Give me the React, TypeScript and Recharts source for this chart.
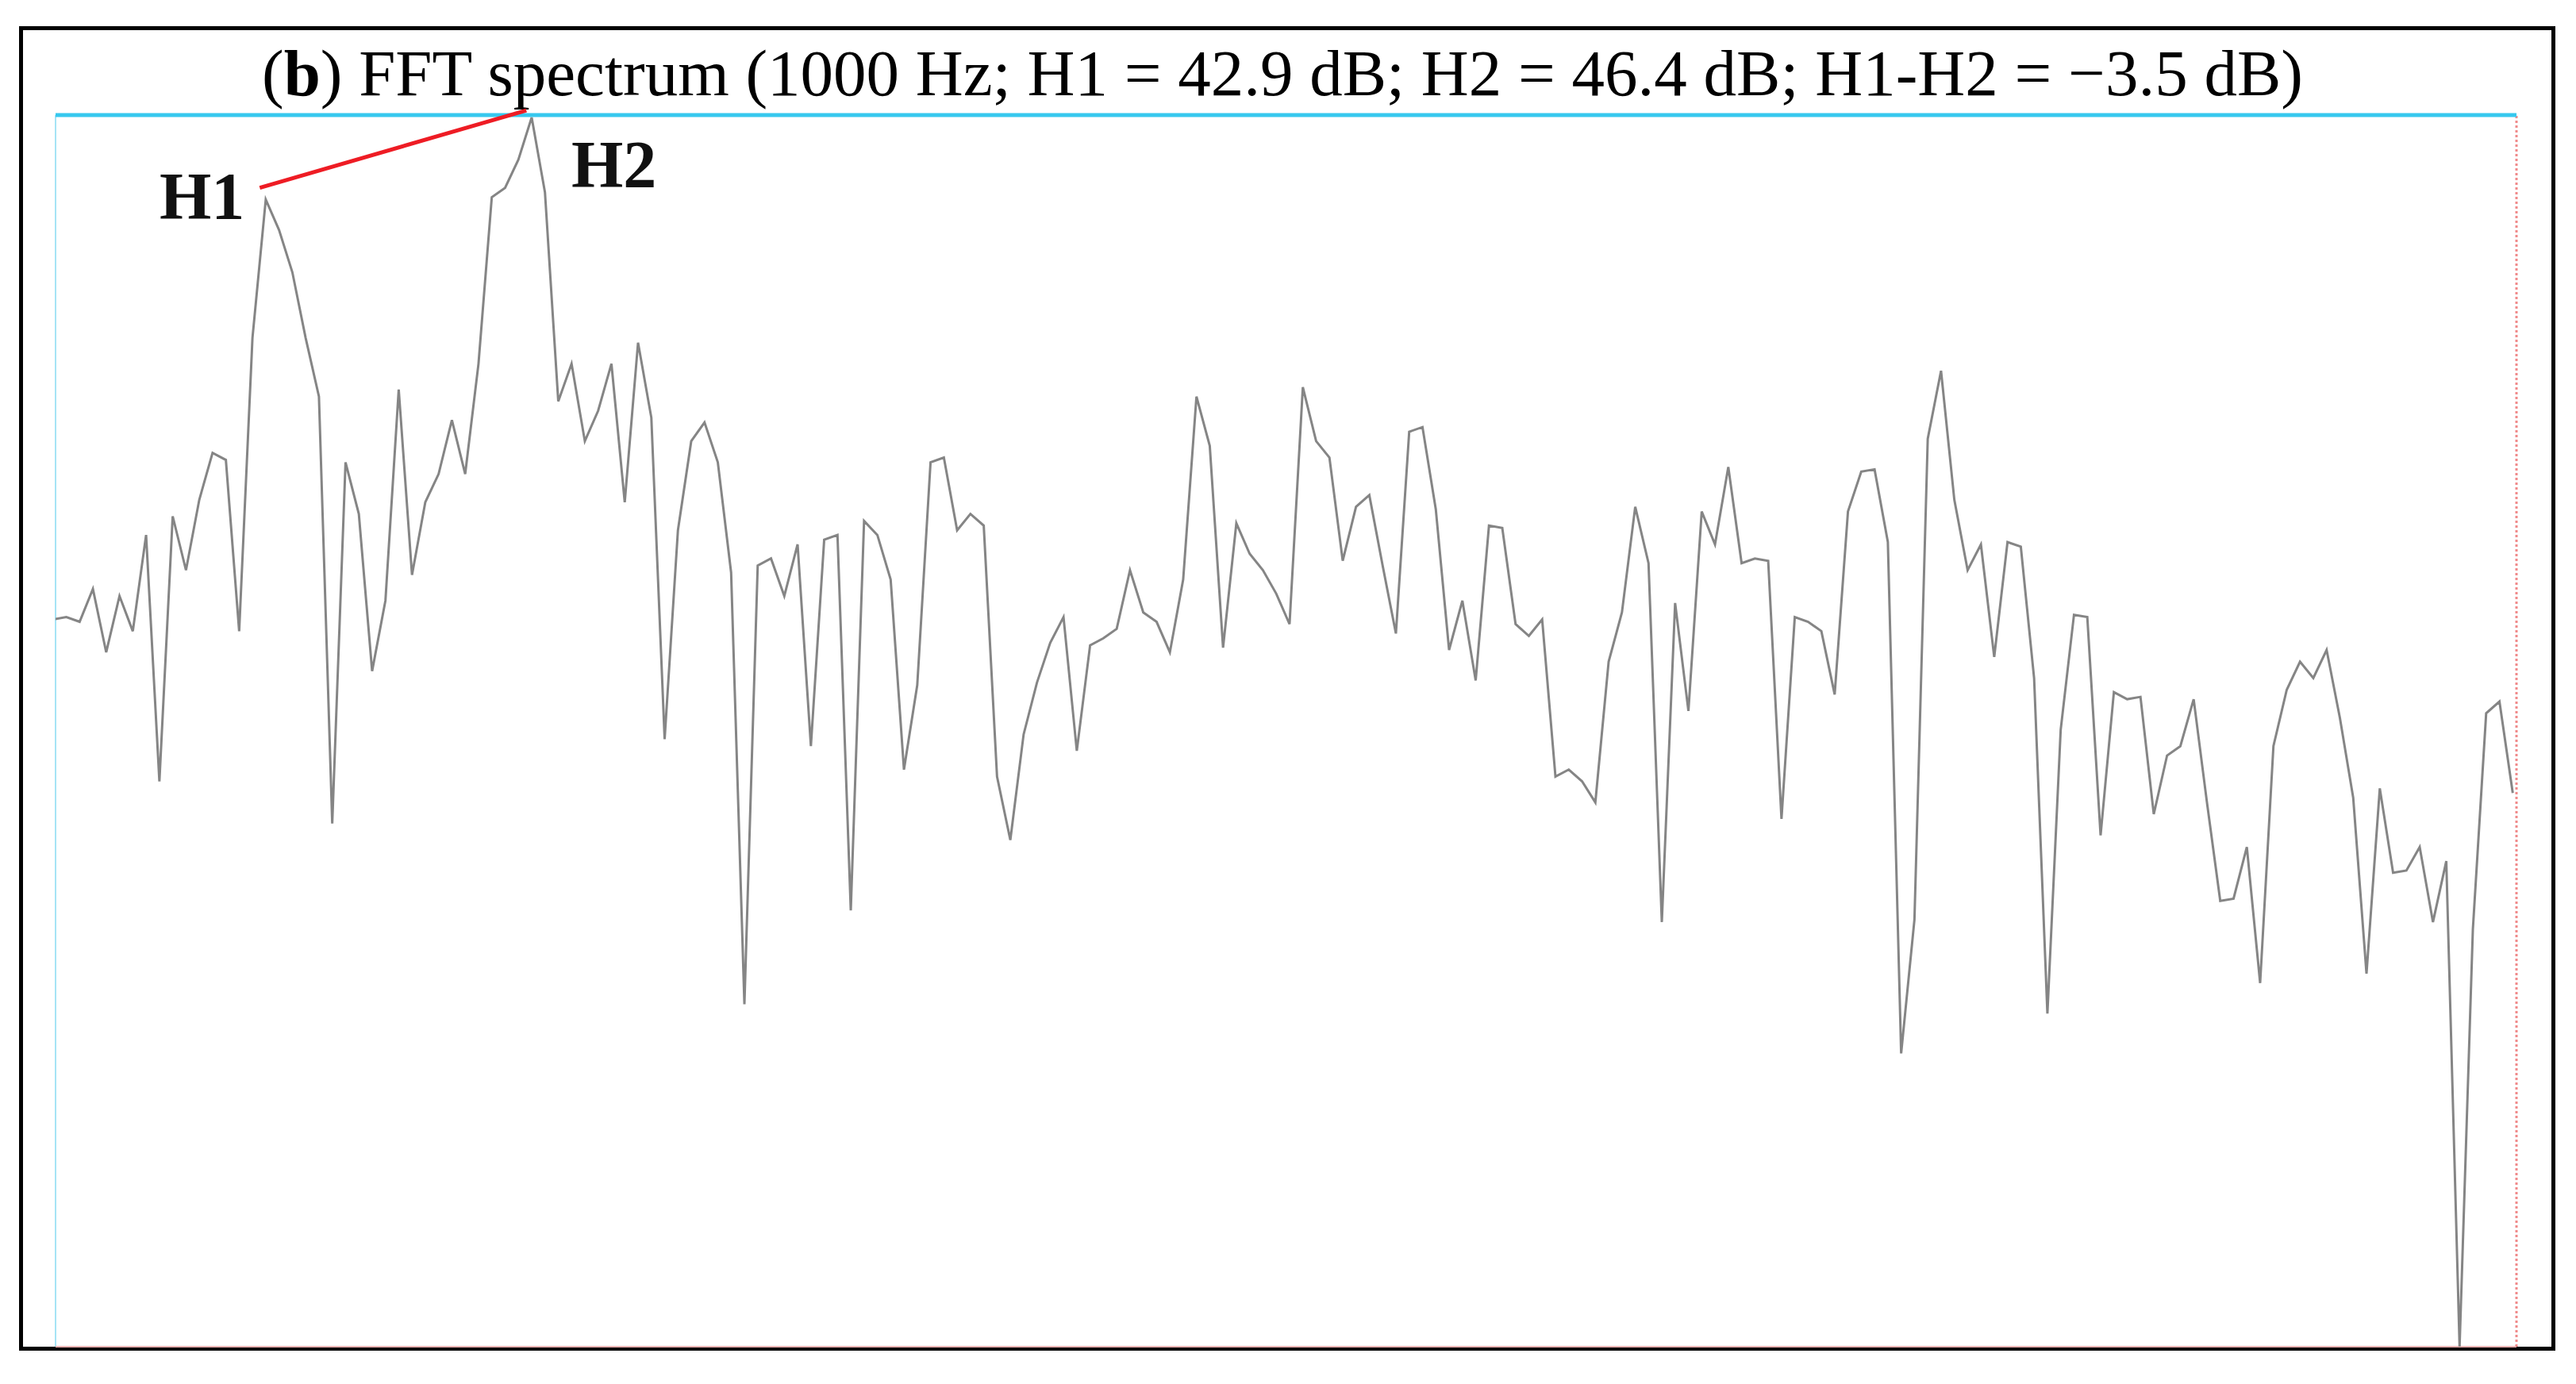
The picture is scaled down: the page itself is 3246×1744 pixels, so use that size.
import React from "react";
import { LineChart, Line, XAxis, YAxis, ReferenceLine } from "recharts";

// FFT spectrum levels (dB), read bin by bin from left to right
const band1: number[] = [
  25.0, 25.1, 24.9, 26.3, 23.6, 26.0, 24.5, 28.6, 18.1, 29.4, 27.1, 30.1, 32.1, 31.8, 24.5, 37.0,
  42.9, 41.6, 39.8, 37.0, 34.5, 16.3, 31.7, 29.5, 22.8, 25.8, 34.8, 26.9, 30.0, 31.2, 33.5,
];
const band2: number[] = [
  31.2, 35.9, 43.0, 43.4, 44.6, 46.4, 43.2, 34.3, 35.9, 32.6, 33.9, 35.9, 30.0, 36.8, 33.6, 19.9,
  28.8, 32.6, 33.4, 31.7, 27.0, 8.6, 27.3, 27.6, 26.0, 28.2, 19.6, 28.4, 28.6, 12.6, 29.2,
];
const band3: number[] = [
  28.6, 26.7, 18.6, 22.2, 31.7, 31.9, 28.8, 29.5, 29.0, 18.3, 15.6, 20.1, 22.3, 24.0, 25.1, 19.4,
  23.9, 24.2, 24.6, 27.1, 25.3, 24.9, 23.6, 26.7, 34.5, 32.4, 23.8, 29.1, 27.8, 27.1, 26.1,
];
const band4: number[] = [
  24.8, 34.9, 32.6, 31.9, 27.5, 29.8, 30.3, 27.3, 24.4, 33.0, 33.2, 29.7, 23.7, 25.8, 22.4, 29.0,
  28.9, 24.8, 24.3, 25.0, 18.3, 18.6, 18.1, 17.2, 23.2, 25.3, 29.8, 27.4, 12.1, 25.7, 21.1,
];
const band5: number[] = [
  29.6, 28.2, 31.5, 27.4, 27.6, 27.5, 16.5, 25.1, 24.9, 24.5, 21.8, 29.6, 31.3, 31.4, 28.3, 6.5,
  12.2, 32.7, 35.6, 30.1, 27.1, 28.2, 23.4, 28.3, 28.1, 22.5, 8.2, 20.3, 25.2, 25.1, 15.8,
];
const band6: number[] = [
  21.9, 21.6, 21.7, 16.7, 19.2, 19.6, 21.6, 17.2, 13.0, 13.1, 15.3, 9.5, 19.6, 22.0, 23.2, 22.5,
  23.7, 20.8, 17.4, 9.9, 17.8, 14.2, 14.3, 15.3, 12.1, 14.7, -6.0, 11.8, 21.0, 21.5, 17.6,
];

const levels: number[] = [...band1, ...band2, ...band3, ...band4, ...band5, ...band6];
const data = levels.map((v, i) => ({ bin: i, level: v }));

const yDomain: [number, number] = [-6, 46.5];
const xDomain: [number, number] = [0.19, 185.28];

// H1 -> H2 marker (data coordinates)
const h1Mark = { x: 15.55, y: 43.4 };
const h2Mark = { x: 35.6, y: 46.7 };

const titleParts = {
  open: "(",
  letter: "b",
  rest: ") FFT spectrum (1000 Hz; H1 = 42.9 dB; H2 = 46.4 dB; H1-H2 = \u22123.5 dB)",
};
const labelH1 = "H1";
const labelH2 = "H2";

const W = 3246;
const H = 1744;
const serif = "'Liberation Serif', 'Times New Roman', serif";

export default function App() {
  return (
    <div style={{ position: "absolute", left: 0, top: 0, width: W, height: H, background: "#fff" }}>
      <svg width={W} height={H} style={{ position: "absolute", left: 0, top: 0 }}>
        <rect x={26.5} y={35.5} width={3191} height={1664} fill="none" stroke="#000" strokeWidth={5} />
        <text x={330} y={120} fontFamily={serif} fontSize={83} fill="#000">
          {titleParts.open}
          <tspan fontWeight="bold">{titleParts.letter}</tspan>
          {titleParts.rest}
        </text>
        <text x={201} y={276} fontFamily={serif} fontSize={84} fontWeight="bold" fill="#111">
          {labelH1}
        </text>
        <text x={720} y={236} fontFamily={serif} fontSize={84} fontWeight="bold" fill="#111">
          {labelH2}
        </text>
      </svg>
      <div style={{ position: "absolute", left: 0, top: 0 }}>
        <LineChart width={W} height={H} data={data} margin={{ top: 145, right: 75, bottom: 47, left: 70 }}>
          <XAxis hide type="number" dataKey="bin" domain={xDomain} allowDataOverflow />
          <YAxis hide type="number" domain={yDomain} allowDataOverflow />
          <ReferenceLine x={xDomain[0]} stroke="#a6e4f6" strokeWidth={2} />
          <ReferenceLine y={yDomain[0]} stroke="#f4b4b4" strokeWidth={2} />
          <ReferenceLine x={xDomain[1]} stroke="#f08a8a" strokeWidth={3} strokeDasharray="3 3" />
          <Line
            type="linear"
            dataKey="level"
            stroke="#858585"
            strokeWidth={3}
            dot={false}
            activeDot={false}
            isAnimationActive={false}
          />
          <ReferenceLine y={yDomain[1]} stroke="#36c8ee" strokeWidth={5} />
          <ReferenceLine
            segment={[h1Mark, h2Mark]}
            ifOverflow="visible"
            stroke="#ee1c24"
            strokeWidth={5}
          />
        </LineChart>
      </div>
    </div>
  );
}
